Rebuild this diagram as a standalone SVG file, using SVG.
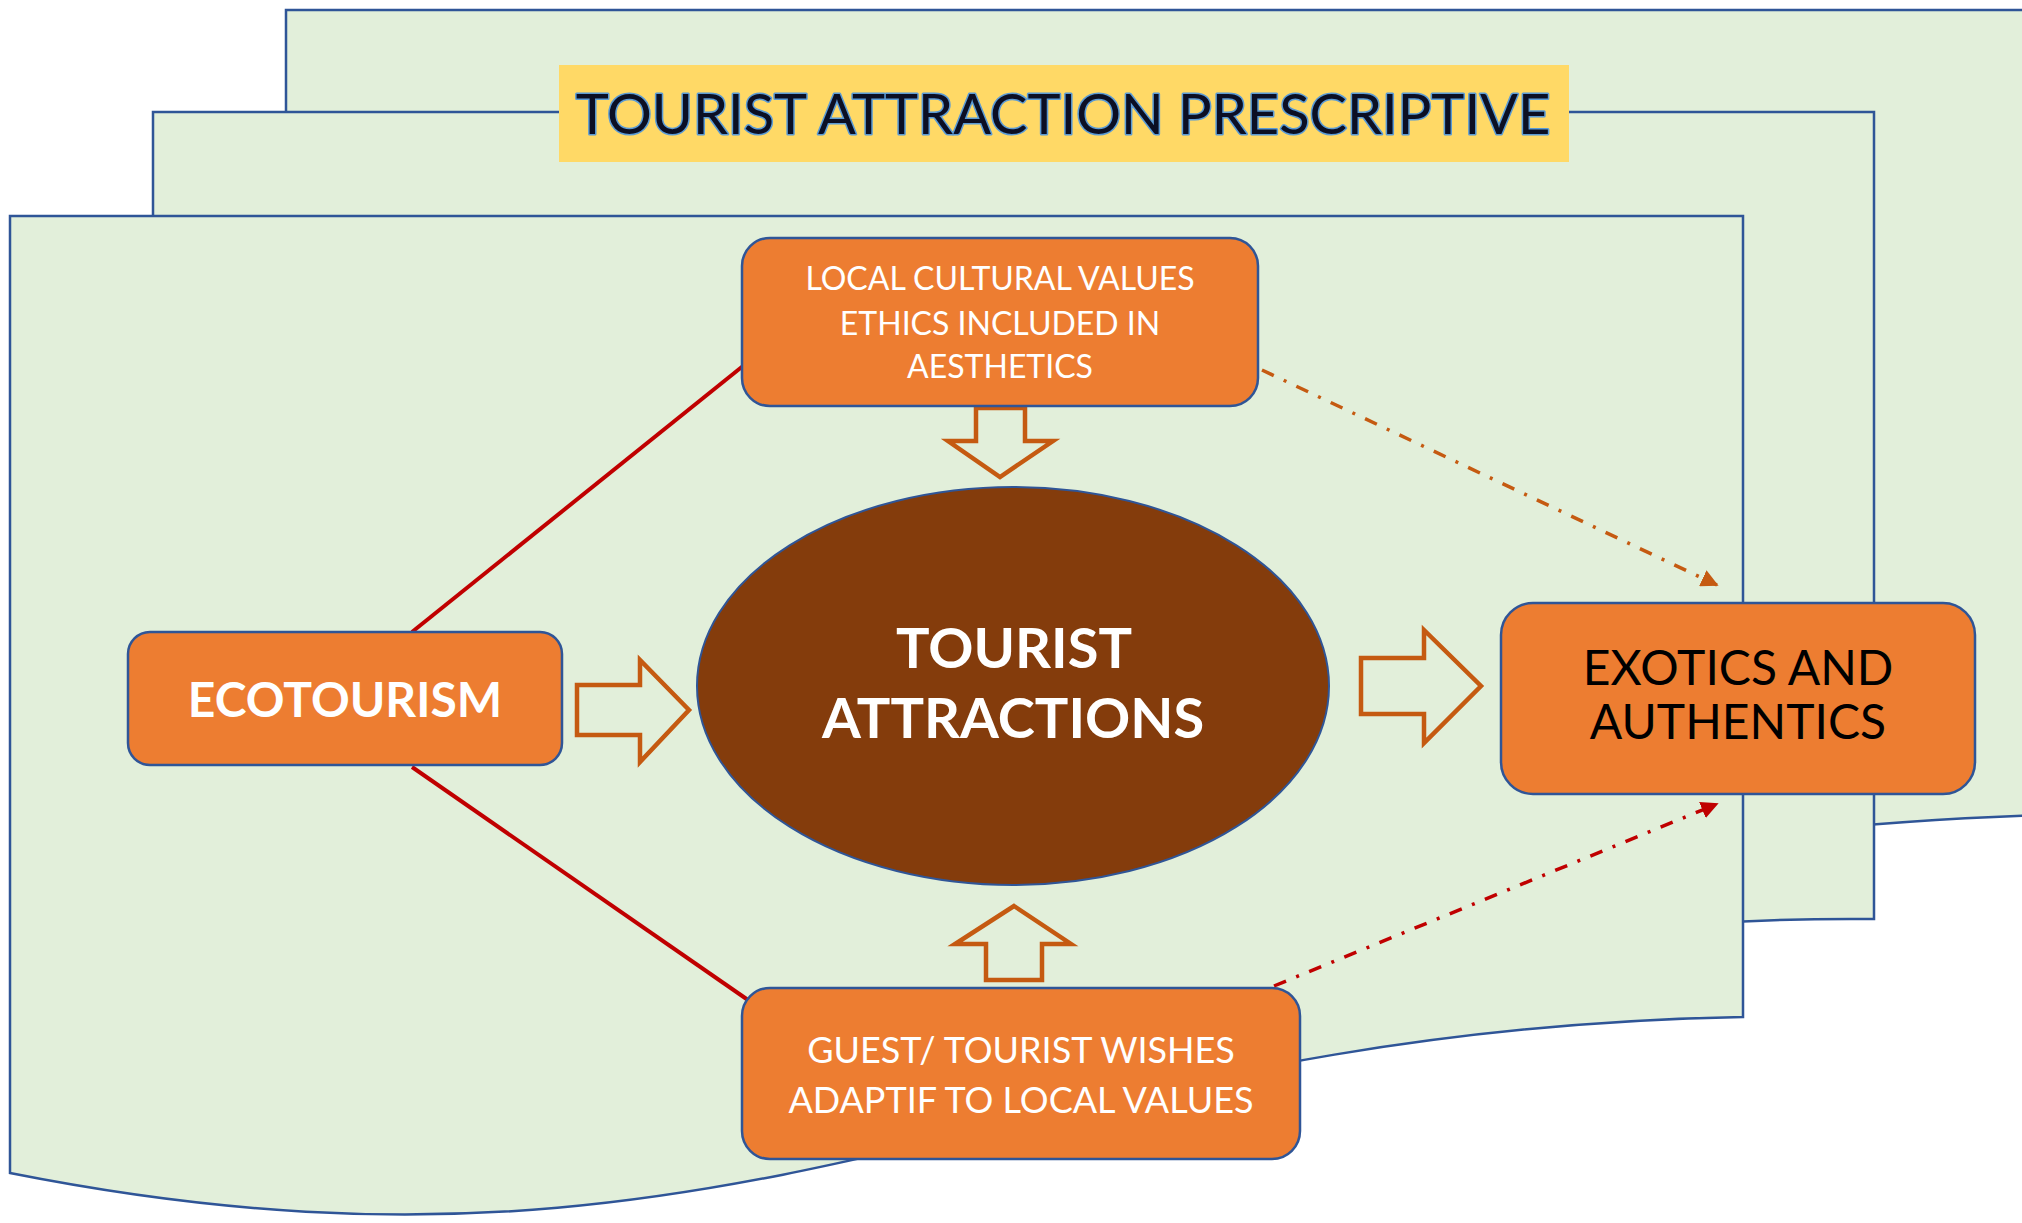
<svg xmlns="http://www.w3.org/2000/svg" width="2022" height="1223" viewBox="0 0 2022 1223">
<defs>
<style>
.page{fill:#e2efda;stroke:#2f5597;stroke-width:2.5}
.box{fill:#ed7d31;stroke:#2f5597;stroke-width:2.5}
.blk{fill:#e2efda;stroke:#c55a11;stroke-width:4.5;stroke-linejoin:miter}
.t{font-family:Lato,"Open Sans","Liberation Sans",sans-serif;text-anchor:middle}
.w{fill:#ffffff}
.b{font-weight:bold}
.solid{fill:none;stroke:#c00000;stroke-width:4}
.dd{fill:none;stroke-width:3.5;stroke-dasharray:13 11 3 11}
</style>
<marker id="ahO" viewBox="0 0 10 10" refX="9" refY="5" markerWidth="5" markerHeight="5" markerUnits="strokeWidth" orient="auto">
<path d="M0,0 L10,5 L0,10 Z" fill="#c55a11"/>
</marker>
<marker id="ahR" viewBox="0 0 10 10" refX="9" refY="5" markerWidth="5" markerHeight="5" markerUnits="strokeWidth" orient="auto">
<path d="M0,0 L10,5 L0,10 Z" fill="#c00000"/>
</marker>
</defs>
<rect width="2022" height="1223" fill="#ffffff"/>
<g id="pages">
<path id="page-back" class="page" d="M286,10 H2045 V815 C1500,830 1000,1000 286,880 Z"/>
<path id="page-middle" class="page" d="M153,112 H1874 V919 C1130,912 680,1236 153,1069 Z"/>
<g id="title">
<rect x="559" y="65" width="1010" height="97" fill="#ffd966"/>
<text class="t" x="1063" y="134" font-size="56" fill="#0b0f24" stroke="#5b9bd5" stroke-width="3" paint-order="stroke" stroke-linejoin="round">TOURIST ATTRACTION PRESCRIPTIVE</text>
</g>
<path id="page-front" class="page" d="M10,216 H1743 V1017 C1000,1030 750,1320 10,1173 Z"/>
</g>
<g id="connectors">
<line class="solid" x1="412" y1="632" x2="743" y2="366"/>
<line class="solid" x1="412" y1="767" x2="748" y2="1000"/>
<line class="dd" stroke="#c55a11" x1="1262" y1="370" x2="1717" y2="585" marker-end="url(#ahO)"/>
<line class="dd" stroke="#c00000" x1="1274" y1="986" x2="1717" y2="804" marker-end="url(#ahR)"/>
<polygon class="blk" points="577,685 640,685 640,660 689,710 640,762 640,735 577,735"/>
<polygon class="blk" points="1361,658 1424,658 1424,630 1481,686 1424,743 1424,714 1361,714"/>
<polygon class="blk" points="976,408 1025,408 1025,441 1053,441 1000,477 948,441 976,441"/>
<polygon class="blk" points="1014,906 1071,944 1042,944 1042,980 986,980 986,944 955,944"/>
</g>
<g id="node-local">
<rect class="box" x="742" y="238" width="516" height="168" rx="28"/>
<text class="t w" font-size="32"><tspan x="1000" y="290">LOCAL CULTURAL VALUES</tspan><tspan x="1000" y="335">ETHICS INCLUDED IN</tspan><tspan x="1000" y="378">AESTHETICS</tspan></text>
</g>
<g id="node-ecotourism">
<rect class="box" x="128" y="632" width="434" height="133" rx="22"/>
<text class="t w b" x="345" y="717" font-size="48">ECOTOURISM</text>
</g>
<g id="node-attractions">
<ellipse cx="1013" cy="686" rx="316" ry="199" fill="#843c0c" stroke="#2f5597" stroke-width="2"/>
<text class="t w b" font-size="56"><tspan x="1014" y="668">TOURIST</tspan><tspan x="1013" y="738">ATTRACTIONS</tspan></text>
</g>
<g id="node-exotics">
<rect class="box" x="1501" y="603" width="474" height="191" rx="32"/>
<text class="t" fill="#000000" font-size="48"><tspan x="1738" y="685">EXOTICS AND</tspan><tspan x="1738" y="739">AUTHENTICS</tspan></text>
</g>
<g id="node-guest">
<rect class="box" x="742" y="988" width="558" height="171" rx="28"/>
<text class="t w" font-size="36"><tspan x="1021" y="1063">GUEST/ TOURIST WISHES</tspan><tspan x="1021" y="1113">ADAPTIF TO LOCAL VALUES</tspan></text>
</g>
</svg>
